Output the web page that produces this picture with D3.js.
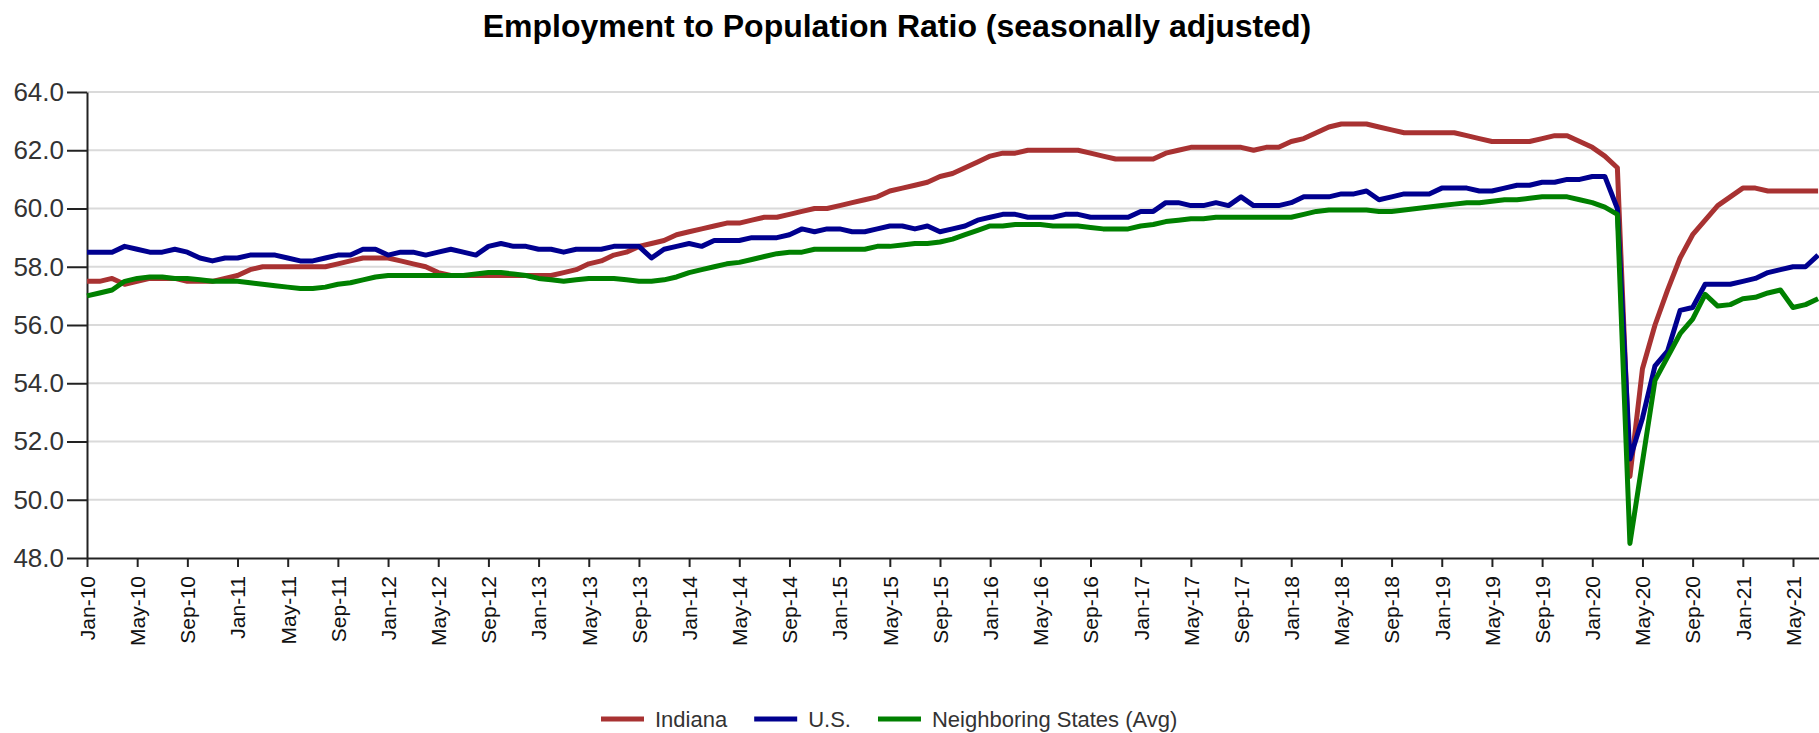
<!DOCTYPE html>
<html>
<head>
<meta charset="utf-8">
<script src="https://cdnjs.cloudflare.com/ajax/libs/d3/7.8.5/d3.min.js"></script>
<style>
  body { margin: 0; background: #fff; }
  svg { display: block; font-family: "Liberation Sans", Arial, sans-serif; }
</style>
</head>
<body>
<div id="chart"></div>
<script>
// monthly values, Jan-10 .. Jul-21
var indiana = [
  57.5, 57.5, 57.6, 57.4, 57.5, 57.6, 57.6, 57.6, 57.5, 57.5, 57.5, 57.6, 57.7,
  57.9, 58.0, 58.0, 58.0, 58.0, 58.0, 58.0, 58.1, 58.2, 58.3, 58.3, 58.3, 58.2, 58.1, 58.0, 57.8,
  57.7, 57.7, 57.7, 57.7, 57.7, 57.7, 57.7, 57.7, 57.7, 57.8, 57.9, 58.1, 58.2, 58.4,
  58.5, 58.7, 58.8, 58.9, 59.1, 59.2, 59.3, 59.4, 59.5, 59.5, 59.6, 59.7, 59.7, 59.8,
  59.9, 60.0, 60.0, 60.1, 60.2, 60.3, 60.4, 60.6, 60.7, 60.8, 60.9, 61.1, 61.2, 61.4,
  61.6, 61.8, 61.9, 61.9, 62.0, 62.0, 62.0, 62.0, 62.0, 61.9, 61.8, 61.7, 61.7, 61.7,
  61.7, 61.9, 62.0, 62.1, 62.1, 62.1, 62.1, 62.1, 62.0, 62.1, 62.1, 62.3, 62.4, 62.6,
  62.8, 62.9, 62.9, 62.9, 62.8, 62.7, 62.6, 62.6, 62.6, 62.6, 62.6, 62.5, 62.4, 62.3,
  62.3, 62.3, 62.3, 62.4, 62.5, 62.5, 62.3, 62.1, 61.8, 61.4, 50.8, 54.5, 56.0,
  57.2, 58.3, 59.1, 59.6, 60.1, 60.4, 60.7, 60.7, 60.6, 60.6, 60.6, 60.6, 60.6
];

var us = [
  58.5, 58.5, 58.5, 58.7, 58.6, 58.5, 58.5, 58.6, 58.5, 58.3, 58.2, 58.3, 58.3, 58.4,
  58.4, 58.4, 58.3, 58.2, 58.2, 58.3, 58.4, 58.4, 58.6, 58.6, 58.4, 58.5, 58.5, 58.4, 58.5,
  58.6, 58.5, 58.4, 58.7, 58.8, 58.7, 58.7, 58.6, 58.6, 58.5, 58.6, 58.6, 58.6, 58.7,
  58.7, 58.7, 58.3, 58.6, 58.7, 58.8, 58.7, 58.9, 58.9, 58.9, 59.0, 59.0, 59.0, 59.1,
  59.3, 59.2, 59.3, 59.3, 59.2, 59.2, 59.3, 59.4, 59.4, 59.3, 59.4, 59.2, 59.3, 59.4,
  59.6, 59.7, 59.8, 59.8, 59.7, 59.7, 59.7, 59.8, 59.8, 59.7, 59.7, 59.7, 59.7, 59.9,
  59.9, 60.2, 60.2, 60.1, 60.1, 60.2, 60.1, 60.4, 60.1, 60.1, 60.1, 60.2, 60.4, 60.4,
  60.4, 60.5, 60.5, 60.6, 60.3, 60.4, 60.5, 60.5, 60.5, 60.7, 60.7, 60.7, 60.6, 60.6,
  60.7, 60.8, 60.8, 60.9, 60.9, 61.0, 61.0, 61.1, 61.1, 60.0, 51.4, 52.8, 54.6,
  55.1, 56.5, 56.6, 57.4, 57.4, 57.4, 57.5, 57.6, 57.8, 57.9, 58.0, 58.0, 58.4
];

var neighbors = [
  57.0, 57.1, 57.2, 57.5, 57.6, 57.65, 57.65, 57.6, 57.6, 57.55, 57.5, 57.5, 57.5, 57.45,
  57.4, 57.35, 57.3, 57.25, 57.25, 57.3, 57.4, 57.45, 57.55, 57.65, 57.7, 57.7, 57.7, 57.7, 57.7,
  57.7, 57.7, 57.75, 57.8, 57.8, 57.75, 57.7, 57.6, 57.55, 57.5, 57.55, 57.6, 57.6, 57.6,
  57.55, 57.5, 57.5, 57.55, 57.65, 57.8, 57.9, 58.0, 58.1, 58.15, 58.25, 58.35, 58.45, 58.5,
  58.5, 58.6, 58.6, 58.6, 58.6, 58.6, 58.7, 58.7, 58.75, 58.8, 58.8, 58.85, 58.95, 59.1,
  59.25, 59.4, 59.4, 59.45, 59.45, 59.45, 59.4, 59.4, 59.4, 59.35, 59.3, 59.3, 59.3, 59.4,
  59.45, 59.55, 59.6, 59.65, 59.65, 59.7, 59.7, 59.7, 59.7, 59.7, 59.7, 59.7, 59.8, 59.9,
  59.95, 59.95, 59.95, 59.95, 59.9, 59.9, 59.95, 60.0, 60.05, 60.1, 60.15, 60.2, 60.2, 60.25,
  60.3, 60.3, 60.35, 60.4, 60.4, 60.4, 60.3, 60.2, 60.05, 59.8, 48.5, 51.3, 54.1,
  54.9, 55.7, 56.2, 57.05, 56.65, 56.7, 56.9, 56.95, 57.1, 57.2, 56.6, 56.7, 56.9
];

var tickLabels = [
  "Jan-10", "May-10", "Sep-10", "Jan-11", "May-11", "Sep-11", "Jan-12", "May-12", "Sep-12",
  "Jan-13", "May-13", "Sep-13", "Jan-14", "May-14", "Sep-14", "Jan-15", "May-15", "Sep-15",
  "Jan-16", "May-16", "Sep-16", "Jan-17", "May-17", "Sep-17", "Jan-18", "May-18", "Sep-18",
  "Jan-19", "May-19", "Sep-19", "Jan-20", "May-20", "Sep-20", "Jan-21", "May-21"
];
var yTicks = [48, 50, 52, 54, 56, 58, 60, 62, 64];

var seriesNames = ["Indiana", "U.S.", "Neighboring States (Avg)"];
var seriesColors = ["#a83232", "#00008f", "#008000"];

(function() {
  var width = 1819, height = 733;
  var plotLeft = 87, plotTop = 92, plotBottom = 558;

  var x = d3.scaleLinear().domain([0, 140]).range([plotLeft, plotLeft + 140 * 12.544]);
  var y = d3.scaleLinear().domain([48, 64]).range([plotBottom, plotTop]);

  var svg = d3.select("#chart").append("svg")
      .attr("width", width)
      .attr("height", height);

  svg.append("rect").attr("width", width).attr("height", height).attr("fill", "#fff");

  // title
  svg.append("text")
      .attr("x", 897)
      .attr("y", 37)
      .attr("text-anchor", "middle")
      .style("font-weight", "bold")
      .style("font-size", "32px")
      .attr("fill", "#000")
      .text("Employment to Population Ratio (seasonally adjusted)");

  // gridlines
  svg.append("g")
    .selectAll("line")
    .data(yTicks.slice(1))
    .join("line")
      .attr("x1", plotLeft)
      .attr("x2", width)
      .attr("y1", function(d) { return y(d); })
      .attr("y2", function(d) { return y(d); })
      .attr("stroke", "#dadada")
      .attr("stroke-width", 2);

  // y axis
  var yAxis = svg.append("g")
      .attr("transform", "translate(" + plotLeft + ",0)")
      .call(d3.axisLeft(y).tickValues(yTicks).tickFormat(d3.format(".1f")).tickSize(20).tickSizeOuter(0));
  yAxis.select(".domain").attr("stroke", "#222").attr("stroke-width", 2);
  yAxis.selectAll(".tick line").attr("stroke", "#222").attr("stroke-width", 2);
  yAxis.selectAll("text")
      .attr("x", -23)
      .style("font-size", "26px")
      .style("font-family", "'Liberation Sans', Arial, sans-serif")
      .attr("fill", "#333");

  // x axis
  var tickIdx = tickLabels.map(function(d, i) { return i * 4; });
  var xAxis = svg.append("g")
      .attr("transform", "translate(0," + plotBottom + ")")
      .call(d3.axisBottom(x).tickValues(tickIdx)
        .tickFormat(function(d, i) { return tickLabels[i]; })
        .tickSize(9).tickSizeOuter(0));
  xAxis.select(".domain").attr("stroke", "#222").attr("stroke-width", 2);
  xAxis.selectAll(".tick line").attr("stroke", "#222").attr("stroke-width", 2);
  xAxis.selectAll("text")
      .attr("transform", "rotate(-90)")
      .attr("text-anchor", "end")
      .attr("x", -18)
      .attr("y", 0)
      .attr("dy", "0.35em")
      .style("font-size", "21px")
      .style("font-family", "'Liberation Sans', Arial, sans-serif")
      .attr("fill", "#111");

  // lines
  var line = d3.line()
      .x(function(d, i) { return x(i); })
      .y(function(d) { return y(d); });

  [indiana, us, neighbors].forEach(function(values, k) {
    svg.append("path")
        .datum(values)
        .attr("fill", "none")
        .attr("stroke", seriesColors[k])
        .attr("stroke-width", 5)
        .attr("stroke-linejoin", "round")
        .attr("d", line);
  });

  // legend
  var legend = svg.append("g");
  var lx = 601, ly = 719;
  seriesNames.forEach(function(name, k) {
    legend.append("line")
        .attr("x1", lx).attr("x2", lx + 43)
        .attr("y1", ly).attr("y2", ly)
        .attr("stroke", seriesColors[k])
        .attr("stroke-width", 5);
    var t = legend.append("text")
        .attr("x", lx + 54)
        .attr("y", ly)
        .attr("dy", "0.35em")
        .style("font-size", "22px")
        .attr("fill", "#333")
        .text(name);
    lx += 54 + t.node().getComputedTextLength() + 27;
  });
})();
</script>
</body>
</html>
